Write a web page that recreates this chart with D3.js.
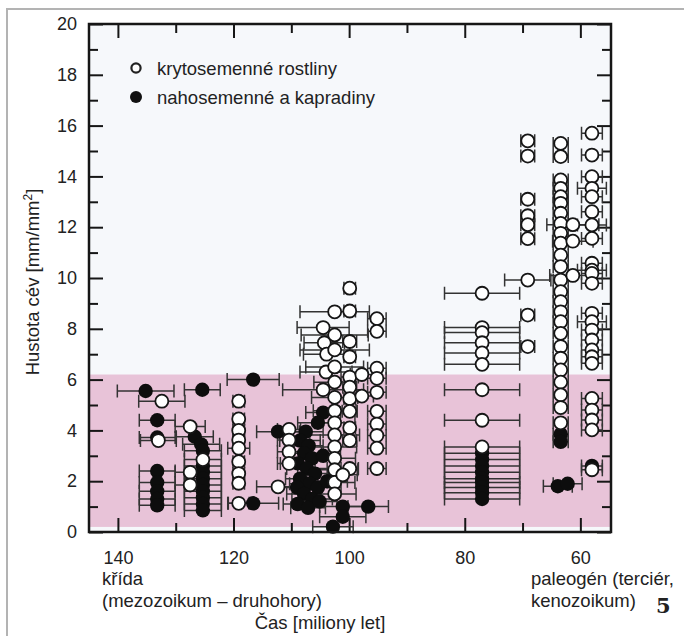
<!DOCTYPE html>
<html>
<head>
<meta charset="utf-8">
<script src="https://cdn.jsdelivr.net/npm/d3@7"></script>
<style>
  body { margin: 0; background: #fff; }
  svg { display: block; font-family: "Liberation Sans", Arial, sans-serif; }
</style>
</head>
<body>
<svg id="chart"></svg>
<script>
const WIDTH = 684;
const HEIGHT = 636;
const PLOT = { left: 89, right: 611, top: 24, bottom: 532 };

// rows: [age (Ma), vessel density (mm/mm2), age error +-]
const krytosemenne = [
  [132.4, 5.15, 4.0], [133.0, 3.6, 3.1],
  [127.5, 4.15, 2.6], [127.5, 2.35, 2.6], [127.5, 1.85, 2.6], [125.3, 2.85, 3.2],
  [119.1, 5.15, 1.0], [119.1, 4.45, 1.0], [119.1, 4.0, 1.0], [119.1, 3.62, 1.0], [119.1, 3.3, 1.9],
  [119.1, 2.77, 1.0], [119.1, 2.3, 1.0], [119.1, 1.92, 1.0], [119.1, 1.13, 1.8],
  [112.3, 1.78, 3.7], [110.4, 4.04, 2.0], [110.4, 3.62, 2.0], [110.4, 3.16, 2.0], [110.4, 2.7, 2.0],
  [104.5, 8.05, 4.5], [104.3, 7.45, 3.5], [103.9, 7.0, 4.0], [104.0, 6.3, 4.5], [104.5, 5.6, 7.0],
  [102.5, 8.67, 6.0], [102.5, 7.76, 5.8], [102.5, 7.17, 6.0], [102.5, 6.5, 5.0], [102.5, 5.9, 3.6],
  [102.5, 5.3, 4.0], [102.5, 4.77, 3.7], [102.5, 4.3, 3.5], [102.5, 3.82, 4.3], [102.5, 3.35, 3.8],
  [102.5, 2.9, 3.6], [102.5, 2.45, 4.0], [102.5, 1.95, 3.5], [102.5, 1.5, 3.7],
  [99.9, 9.6, 1.0], [99.9, 8.7, 1.0], [99.9, 7.5, 1.2], [99.9, 6.9, 1.0], [99.9, 6.1, 1.5],
  [99.9, 5.7, 1.2], [99.9, 5.25, 1.0], [99.9, 4.75, 1.3], [99.9, 4.1, 1.0], [99.9, 3.6, 1.2], [99.9, 2.5, 1.5],
  [101.1, 2.25, 2.5], [97.8, 6.2, 2.0], [97.8, 5.35, 2.0],
  [95.2, 8.4, 1.6], [95.2, 7.9, 1.6], [95.2, 6.45, 1.6], [95.2, 6.05, 1.6], [95.2, 5.5, 1.6],
  [95.2, 4.75, 1.6], [95.2, 4.25, 1.6], [95.2, 3.8, 1.6], [95.2, 3.3, 1.6], [95.2, 2.5, 1.6],
  [77.0, 9.4, 6.5], [77.0, 8.05, 6.5], [77.0, 7.85, 6.5], [77.0, 7.45, 6.5], [77.0, 7.05, 6.5],
  [77.0, 6.6, 6.5], [77.0, 5.6, 6.5], [77.0, 4.4, 6.5], [77.0, 3.35, 6.5],
  [69.1, 15.4, 1.2], [69.1, 14.8, 1.2], [69.1, 13.1, 1.2], [69.1, 12.45, 1.2], [69.1, 12.1, 1.2],
  [69.1, 11.55, 1.2], [69.1, 9.92, 4.0], [69.1, 8.54, 1.2], [69.1, 7.3, 1.2],
  [63.4, 15.3, 1.3], [63.4, 14.78, 1.3], [63.4, 13.86, 1.3], [63.4, 13.53, 1.3], [63.4, 13.2, 1.3],
  [63.4, 12.94, 1.3], [63.4, 12.55, 1.3], [63.4, 12.15, 1.3], [63.4, 11.76, 1.3], [63.4, 11.37, 1.3],
  [63.4, 10.9, 1.3], [63.4, 10.45, 1.3], [63.4, 9.92, 1.3], [63.4, 9.46, 1.3], [63.4, 9.07, 1.3],
  [63.4, 8.67, 1.3], [63.4, 8.28, 1.3], [63.4, 7.82, 1.3], [63.4, 7.3, 1.3], [63.4, 6.84, 1.3],
  [63.4, 6.38, 1.3], [63.4, 5.9, 1.3], [63.4, 5.4, 1.3], [63.4, 4.9, 1.3], [63.4, 4.3, 1.3],
  [61.3, 12.1, 4.5], [61.3, 11.45, 3.5], [61.3, 10.1, 4.0],
  [58.0, 15.7, 1.8], [58.0, 14.84, 1.8], [58.0, 13.99, 1.8], [58.0, 13.53, 2.5], [58.0, 13.2, 1.8],
  [58.0, 12.61, 1.8], [58.0, 12.09, 2.5], [58.0, 11.56, 1.8], [58.0, 10.58, 1.8], [58.0, 10.31, 2.5],
  [58.0, 10.18, 1.8], [58.0, 9.79, 1.8], [58.0, 8.61, 1.8], [58.0, 8.28, 2.5], [58.0, 7.95, 1.8],
  [58.0, 7.56, 1.8], [58.0, 7.17, 1.8], [58.0, 6.9, 1.8], [58.0, 6.64, 1.8], [58.0, 5.26, 1.8],
  [58.0, 4.8, 1.8], [58.0, 4.41, 1.8], [58.0, 4.02, 1.8], [58.0, 2.45, 1.8]
];

const nahosemenne = [
  [135.2, 5.55, 4.9], [133.2, 4.4, 3.1], [133.2, 3.72, 3.1], [133.2, 2.4, 3.1], [133.2, 1.95, 3.1],
  [133.2, 1.6, 3.1], [133.2, 1.3, 3.1], [133.2, 1.05, 3.1],
  [125.4, 5.6, 3.1], [126.7, 3.75, 3.2], [125.6, 3.45, 3.2], [125.3, 3.2, 3.2], [125.3, 2.6, 3.2],
  [125.3, 2.35, 3.2], [125.3, 2.1, 3.2], [125.3, 1.85, 3.2], [125.3, 1.6, 3.2], [125.3, 1.35, 3.2],
  [125.3, 1.1, 3.2], [125.3, 0.85, 3.2],
  [116.6, 6.0, 4.5], [116.6, 1.13, 4.4], [112.3, 3.95, 3.7],
  [104.5, 4.7, 3.0], [105.4, 4.3, 3.5], [107.5, 3.95, 3.0], [108.5, 3.6, 3.5], [107.0, 3.4, 2.5],
  [107.8, 3.1, 3.0], [106.4, 2.9, 4.0], [108.9, 2.7, 3.0], [107.3, 2.5, 3.5], [105.9, 2.3, 3.0],
  [108.5, 2.1, 2.5], [106.8, 1.9, 3.5], [109.0, 1.75, 3.0], [105.4, 1.75, 4.0], [107.8, 1.5, 3.0],
  [106.4, 1.3, 3.5], [108.9, 1.1, 2.5], [107.1, 0.95, 3.0], [105.1, 1.2, 3.0], [103.8, 2.0, 3.5],
  [104.5, 3.0, 3.0], [102.8, 0.21, 3.5], [101.1, 1.0, 4.0], [101.1, 0.6, 4.0], [96.7, 1.0, 3.5],
  [77.0, 3.1, 6.5], [77.0, 2.85, 6.5], [77.0, 2.6, 6.5], [77.0, 2.35, 6.5], [77.0, 2.1, 6.5],
  [77.0, 1.95, 6.5], [77.0, 1.75, 6.5], [77.0, 1.55, 6.5], [77.0, 1.3, 6.5],
  [63.4, 3.85, 1.3], [63.4, 3.55, 1.3], [63.9, 1.8, 2.5], [62.2, 1.9, 2.5],
  [58.0, 2.6, 1.8]
];

const X_MAJOR = [140, 120, 100, 80, 60];
const X_MINOR = [130, 110, 90, 70];
const Y_MAJOR = [0, 2, 4, 6, 8, 10, 12, 14, 16, 18, 20];
const Y_MINOR = [1, 3, 5, 7, 9, 11, 13, 15, 17, 19];
const PINK_BAND = [0.2, 6.2];
const LEGEND = ["krytosemenné rostliny", "nahosemenné a kapradiny"];

const INK = "#161616";
const BAR_INK = "#333";
const R = 6.5;
const CAP = 6.5;

const svg = d3.select("#chart").attr("width", WIDTH).attr("height", HEIGHT);

const x = d3.scaleLinear().domain([145, 54.7]).range([PLOT.left, PLOT.right]);
const y = d3.scaleLinear().domain([0, 20]).range([PLOT.bottom, PLOT.top]);

// grey page frame (top + left)
svg.append("path")
  .attr("d", "M7," + HEIGHT + "V9H" + WIDTH)
  .attr("fill", "none")
  .attr("stroke", "#b3b3b3")
  .attr("stroke-width", 2);

// plot background
svg.append("rect")
  .attr("x", PLOT.left).attr("y", PLOT.top)
  .attr("width", PLOT.right - PLOT.left).attr("height", PLOT.bottom - PLOT.top)
  .attr("fill", "#f6f8fb");

svg.append("rect")
  .attr("x", PLOT.left).attr("y", y(PINK_BAND[1]))
  .attr("width", PLOT.right - PLOT.left)
  .attr("height", y(PINK_BAND[0]) - y(PINK_BAND[1]))
  .attr("fill", "#e8c3d8");

// axes, ticks pointing inward on all four sides
const noDomain = (g) => g.select(".domain").remove();
const tickStyle = (g) => {
  g.selectAll(".tick line").attr("stroke", INK).attr("stroke-width", 2);
  g.selectAll(".tick text").attr("fill", "#222").style("font-size", "18px");
};

svg.append("g")
  .attr("transform", "translate(0," + PLOT.bottom + ")")
  .call(d3.axisBottom(x).tickValues(X_MAJOR).tickSize(-14).tickPadding(19))
  .call(noDomain).call(tickStyle);
svg.append("g")
  .attr("transform", "translate(0," + PLOT.bottom + ")")
  .call(d3.axisBottom(x).tickValues(X_MINOR).tickSize(-9).tickFormat(""))
  .call(noDomain).call(tickStyle);
svg.append("g")
  .attr("transform", "translate(0," + PLOT.top + ")")
  .call(d3.axisTop(x).tickValues(X_MAJOR).tickSize(-14).tickFormat(""))
  .call(noDomain).call(tickStyle);
svg.append("g")
  .attr("transform", "translate(0," + PLOT.top + ")")
  .call(d3.axisTop(x).tickValues(X_MINOR).tickSize(-9).tickFormat(""))
  .call(noDomain).call(tickStyle);

svg.append("g")
  .attr("transform", "translate(" + PLOT.left + ",0)")
  .call(d3.axisLeft(y).tickValues(Y_MAJOR).tickSize(-14).tickPadding(12))
  .call(noDomain).call(tickStyle);
svg.append("g")
  .attr("transform", "translate(" + PLOT.left + ",0)")
  .call(d3.axisLeft(y).tickValues(Y_MINOR).tickSize(-9).tickFormat(""))
  .call(noDomain).call(tickStyle);
svg.append("g")
  .attr("transform", "translate(" + PLOT.right + ",0)")
  .call(d3.axisRight(y).tickValues(Y_MAJOR).tickSize(-14).tickFormat(""))
  .call(noDomain).call(tickStyle);
svg.append("g")
  .attr("transform", "translate(" + PLOT.right + ",0)")
  .call(d3.axisRight(y).tickValues(Y_MINOR).tickSize(-9).tickFormat(""))
  .call(noDomain).call(tickStyle);

// error bars
const allPoints = krytosemenne.concat(nahosemenne);
const bars = svg.append("g").attr("class", "errorbars")
  .attr("stroke", BAR_INK).attr("stroke-width", 1.5).attr("fill", "none");

bars.selectAll("path")
  .data(allPoints)
  .enter()
  .append("path")
  .attr("d", function (d) {
    const x0 = x(d[0] + d[2]), x1 = x(d[0] - d[2]), yy = y(d[1]);
    return "M" + x0 + "," + (yy - CAP) + "V" + (yy + CAP) +
      "M" + x0 + "," + yy + "H" + x1 +
      "M" + x1 + "," + (yy - CAP) + "V" + (yy + CAP);
  });

svg.append("g").attr("class", "nahosemenne")
  .selectAll("circle")
  .data(nahosemenne)
  .enter()
  .append("circle")
  .attr("cx", (d) => x(d[0]))
  .attr("cy", (d) => y(d[1]))
  .attr("r", R + 0.7)
  .attr("fill", "#0d0d0d");

svg.append("g").attr("class", "krytosemenne")
  .selectAll("circle")
  .data(krytosemenne)
  .enter()
  .append("circle")
  .attr("cx", (d) => x(d[0]))
  .attr("cy", (d) => y(d[1]))
  .attr("r", R)
  .attr("fill", "#fff")
  .attr("stroke", INK)
  .attr("stroke-width", 1.8);

// frame
svg.append("rect")
  .attr("x", PLOT.left).attr("y", PLOT.top)
  .attr("width", PLOT.right - PLOT.left).attr("height", PLOT.bottom - PLOT.top)
  .attr("fill", "none")
  .attr("stroke", INK)
  .attr("stroke-width", 2.5);

// legend
const legend = svg.append("g").attr("class", "legend");
legend.append("circle").attr("cx", 136).attr("cy", 68).attr("r", 4.6)
  .attr("fill", "#fff").attr("stroke", "#222").attr("stroke-width", 2.2);
legend.append("circle").attr("cx", 136).attr("cy", 97).attr("r", 6)
  .attr("fill", "#111");
legend.selectAll("text")
  .data(LEGEND)
  .enter()
  .append("text")
  .attr("x", 157)
  .attr("y", (d, i) => 74.5 + i * 29)
  .attr("fill", "#222")
  .style("font-size", "18.5px")
  .text((d) => d);

// axis titles
const yTitle = svg.append("text")
  .attr("transform", "translate(39,282) rotate(-90)")
  .attr("text-anchor", "middle")
  .attr("fill", "#222")
  .style("font-size", "18.5px");
yTitle.append("tspan").text("Hustota cév [mm/mm");
yTitle.append("tspan").attr("dy", -7).style("font-size", "12px").text("2");
yTitle.append("tspan").attr("dy", 7).text("]");

const bottomText = svg.append("g").attr("fill", "#222").style("font-size", "18.5px");
bottomText.append("text").attr("x", 102).attr("y", 585).text("křída");
bottomText.append("text").attr("x", 102).attr("y", 607).text("(mezozoikum – druhohory)");
bottomText.append("text").attr("x", 320).attr("y", 629).attr("text-anchor", "middle").text("Čas [miliony let]");
bottomText.append("text").attr("x", 531).attr("y", 585).text("paleogén (terciér,");
bottomText.append("text").attr("x", 531).attr("y", 607).text("kenozoikum)");

svg.append("text")
  .attr("x", 656).attr("y", 613)
  .attr("fill", "#222")
  .style("font-family", "'DejaVu Serif', 'Liberation Serif', serif")
  .style("font-weight", "bold")
  .style("font-size", "21px")
  .text("5");
</script>
</body>
</html>
